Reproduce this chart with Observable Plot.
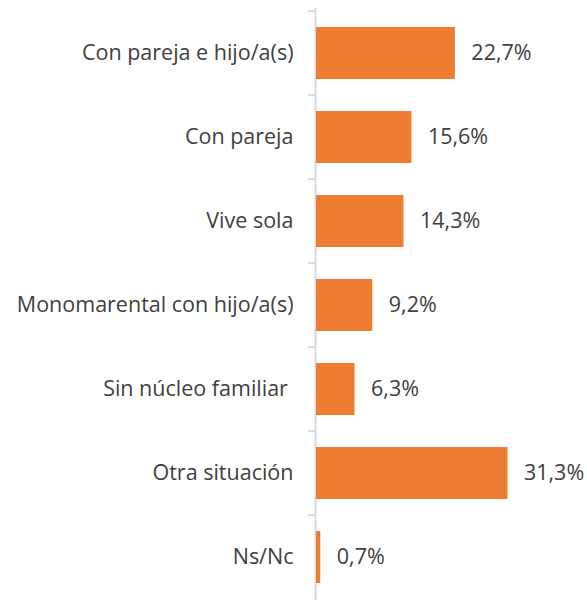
<!DOCTYPE html>
<html>
<head>
<meta charset="utf-8">
<script src="https://cdn.jsdelivr.net/npm/d3@7"></script>
<script src="https://cdn.jsdelivr.net/npm/@observablehq/plot@0.6"></script>
<style>
  html, body { margin: 0; padding: 0; background: #fff; }
</style>
</head>
<body>
<div id="chart"></div>
<script>
const categories = [
  "Con pareja e hijo/a(s)",
  "Con pareja",
  "Vive sola",
  "Monomarental con hijo/a(s)",
  "Sin núcleo familiar ",
  "Otra situación",
  "Ns/Nc"
];
const values = [22.7, 15.6, 14.3, 9.2, 6.3, 31.3, 0.7];

const data = categories.map((c, i) => ({category: c, value: values[i]}));
const fmt = v => v.toFixed(1).replace(".", ",") + "%";

const yTop = 9, yBottom = 601;
const step = (yBottom - yTop) / categories.length;
const font = "'Open Sans', sans-serif";

const chart = Plot.plot({
  width: 587,
  height: 600,
  marginLeft: 0, marginRight: 0, marginTop: 0, marginBottom: 0,
  style: {fontFamily: font, fontSize: "21.5px", color: "#404040", background: "#fff"},
  x: {domain: [0, 44.3], range: [316, 587], axis: null},
  y: {domain: categories, range: [yTop, yBottom], paddingInner: 0.385, paddingOuter: 0.1925, axis: null},
  marks: [
    Plot.ruleY(categories, {y: d => d, x1: -1.35, x2: 0, dy: -step / 2, stroke: "#d9d9d9", strokeWidth: 2}),
    Plot.ruleX([0], {dx: -1, stroke: "#d9d9d9", strokeWidth: 2, insetTop: 8}),
    Plot.barX(data, {y: "category", x: "value", fill: "#ed7d31"}),
    Plot.text(data, {y: "category", x: "value", text: d => fmt(d.value), dx: 16, textAnchor: "start", fill: "#404040"}),
    Plot.text(data, {y: "category", x: 0, text: "category", dx: -23, textAnchor: "end", fill: "#404040"})
  ]
});
document.getElementById("chart").appendChild(chart);
</script>
</body>
</html>
